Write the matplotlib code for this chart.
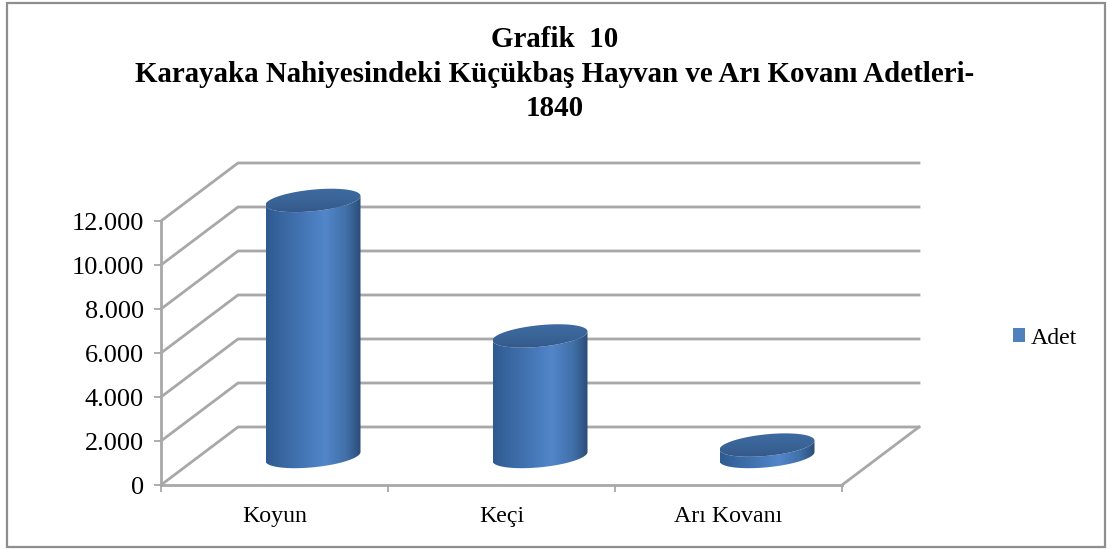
import numpy as np
import matplotlib
matplotlib.use("Agg")
import matplotlib.pyplot as plt
from matplotlib.colors import LinearSegmentedColormap
from matplotlib.patches import Patch, PathPatch, Rectangle
from matplotlib.path import Path

categories = ["Koyun", "Keçi", "Arı Kovanı"]
values = [11640, 5480, 520]
y_ticks = [0, 2000, 4000, 6000, 8000, 10000, 12000]
y_labels = ["0", "2.000", "4.000", "6.000", "8.000", "10.000", "12.000"]
series_name = "Adet"
title = "Grafik  10\nKarayaka Nahiyesindeki Küçükbaş Hayvan ve Arı Kovanı Adetleri-\n1840"

W, H = 1112, 549
plt.rcParams["font.family"] = ["Liberation Serif", "DejaVu Serif"]
fig = plt.figure(figsize=(W / 100, H / 100), dpi=100, facecolor="white")

# Outer chart frame
fig.add_artist(Rectangle((7 / W, 1 - 547 / H), 1098 / W, 544 / H, transform=fig.transFigure,
                         fc="white", ec="#8e8e8e", lw=1.6, zorder=-5))

# Axes = front plane of the 3D box
L, R, T, B = 161, 842, 221, 485
ax = fig.add_axes([L / W, 1 - B / H, (R - L) / W, (B - T) / H])
ax.set_xlim(0, 3)
ax.set_ylim(0, 12000)
ax.patch.set_alpha(0)

GRID = "#a8a8a8"
px_x = 3 / (R - L)
px_y = 12000 / (B - T)
depth_x = 77 * px_x
depth_y = 58 * px_y

for v in y_ticks:
    ax.plot([0, depth_x, 3 + depth_x], [v, v + depth_y, v + depth_y], color=GRID, lw=2.0,
            clip_on=False, zorder=1, solid_joinstyle="miter")
ax.plot([3, 3 + depth_x], [0, depth_y], color=GRID, lw=2.0, clip_on=False, zorder=1)

for s in ("top", "right"):
    ax.spines[s].set_visible(False)
for s in ("left", "bottom"):
    ax.spines[s].set_color(GRID)
    ax.spines[s].set_linewidth(2.0)
    ax.spines[s].set_zorder(2)

ax.set_yticks(y_ticks, y_labels)
ax.set_xticks(np.arange(len(categories)) + 0.5, categories)
ax.set_xticks(np.arange(len(categories) + 1), minor=True)
ax.tick_params(axis="y", length=5, width=1.3, color=GRID, pad=7.5, labelsize=18.9, labelcolor="black")
ax.tick_params(axis="x", which="major", length=0, pad=15, labelsize=17.2, labelcolor="black")
ax.tick_params(axis="x", which="minor", length=5, width=1.3, color=GRID)

side_cmap = LinearSegmentedColormap.from_list(
    "side", [(0, "#2f5a90"), (0.3, "#3f70ad"), (0.62, "#5286ca"), (0.85, "#416fa8"), (1, "#2a4d78")])
top_cmap = LinearSegmentedColormap.from_list("top", ["#3f6ca5", "#3a6598", "#335788"])

half_w = 47.5 * px_x
rad_b = 10.8 * px_y
rad_k = 4.5 * px_y
t_low = np.linspace(np.pi, 2 * np.pi, 80)
t_back = t_low[::-1]
t_full = np.linspace(0, 2 * np.pi, 160)
grad = np.linspace(0, 1, 256).reshape(1, -1)

for i, v in enumerate(values):
    cx = i + 0.5 + depth_x / 2
    base = depth_y / 2 - 0.5 * px_y
    top = base + v
    xs = cx + half_w * np.cos(t_low)
    ys = base + rad_b * np.sin(t_low) + rad_k * np.cos(t_low)
    xb = cx + half_w * np.cos(t_back)
    yb = top + rad_b * np.sin(t_back) + rad_k * np.cos(t_back)
    body = np.column_stack([np.r_[xs, xb, xs[0]], np.r_[ys, yb, ys[0]]])
    patch = PathPatch(Path(body, closed=True), fc="none", ec="none", transform=ax.transData)
    ax.add_patch(patch)
    im = ax.imshow(grad, cmap=side_cmap, extent=[cx - half_w, cx + half_w, base - 2000, top + 2000],
                   aspect="auto", zorder=3, interpolation="bilinear")
    im.set_clip_box(fig.bbox)
    im.set_clip_path(patch)

    xt = cx + half_w * np.cos(t_full)
    yt = top + rad_b * np.sin(t_full) + rad_k * np.cos(t_full)
    cap = PathPatch(Path(np.column_stack([xt, yt]), closed=True), fc="none", ec="none",
                    transform=ax.transData)
    ax.add_patch(cap)
    im2 = ax.imshow(np.linspace(0, 1, 64).reshape(-1, 1), cmap=top_cmap,
                    extent=[cx - half_w, cx + half_w, top - rad_b * 1.3, top + rad_b * 1.3],
                    aspect="auto", zorder=4, interpolation="bilinear", origin="upper")
    im2.set_clip_box(fig.bbox)
    im2.set_clip_path(cap)

ax.set_xlim(0, 3)
ax.set_ylim(0, 12000)

fig.text(555 / W, 1 - 74 / H, title, ha="center", va="center", fontsize=20.9, fontweight="bold",
         linespacing=1.36, color="black")

leg = ax.legend(handles=[Patch(fc="#4f81bd", ec="none", label=series_name)], frameon=False,
                loc="center left", bbox_to_anchor=(1013 / W, 1 - 338 / H), bbox_transform=fig.transFigure,
                fontsize=17.2, handlelength=0.5, handleheight=0.5, handletextpad=0.25,
                borderpad=0, borderaxespad=0)

fig.savefig("out.png", dpi=100)
